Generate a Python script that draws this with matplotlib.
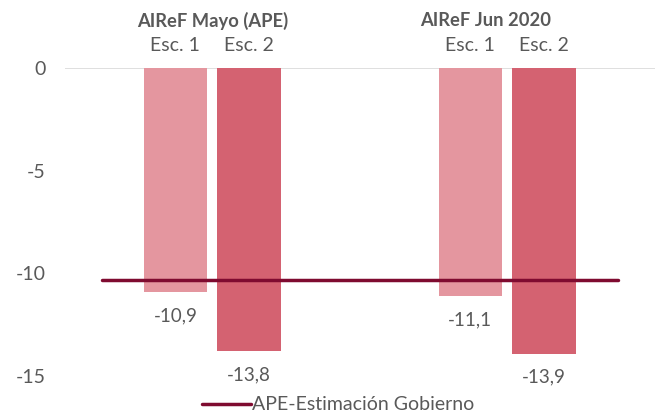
import matplotlib
matplotlib.use("Agg")
import matplotlib.pyplot as plt
import matplotlib.transforms as mtransforms

plt.rcParams['font.family'] = ['Lato', 'DejaVu Sans']

# categories (Excel style: empty slots around the two groups)
positions = [1, 2, 5, 6]
esc_labels = ['Esc. 1', 'Esc. 2', 'Esc. 1', 'Esc. 2']
values = [-10.9, -13.8, -11.1, -13.9]
value_labels = ['-10,9', '-13,8', '-11,1', '-13,9']
groups = ['AIReF Mayo (APE)', 'AIReF Jun 2020']
group_x = [1.5, 5.2]
gob_x = [0, 1, 2, 3, 4, 5, 6, 7]
gob_y = [-10.3] * 8
yticks = [0, -5, -10, -15]

colors = ['#E4969F', '#D46271', '#E4969F', '#D46271']
text_col = '#595959'

fig = plt.figure(figsize=(6.58, 4.17), dpi=100)
ax = fig.add_axes([0.0985, 0.098, 0.8965, 0.739])

ax.bar(positions, values, width=0.86, color=colors, zorder=2)
ax.plot(gob_x, gob_y, color='#7F0B30', lw=2.5, solid_capstyle='round',
        zorder=3, label='APE-Estimación Gobierno')

ax.axhline(0, color='#D9D9D9', lw=1.2, zorder=1)

for x, v, t in zip(positions, values, value_labels):
    ax.annotate(t, (x, v), xytext=(0, -17), textcoords='offset points',
                ha='center', va='center', fontsize=13.5, color=text_col)

trans = mtransforms.blended_transform_factory(ax.transData, fig.transFigure)
for x, t in zip(positions, esc_labels):
    ax.text(x, 0.892, t, transform=trans, ha='center', va='center',
            fontsize=14, color=text_col)
for x, t in zip(group_x, groups):
    ax.text(x, 0.95, t, transform=trans, ha='center', va='center',
            fontsize=13.2, fontweight='bold', color=text_col)

ax.set_xlim(-0.5, 7.5)
ax.set_ylim(-15, 0)
ax.set_xticks([])
ax.set_yticks(yticks)
ax.set_yticklabels([str(t) for t in yticks])
ax.tick_params(axis='y', length=0, pad=14, labelsize=14, labelcolor=text_col)
for s in ax.spines.values():
    s.set_visible(False)

fig.legend(loc='center left', bbox_to_anchor=(0.307, 0.029), frameon=False,
           handlelength=2.5, handletextpad=0.05, fontsize=14,
           labelcolor=text_col, borderpad=0, borderaxespad=0)

fig.savefig('out.png', dpi=100)
